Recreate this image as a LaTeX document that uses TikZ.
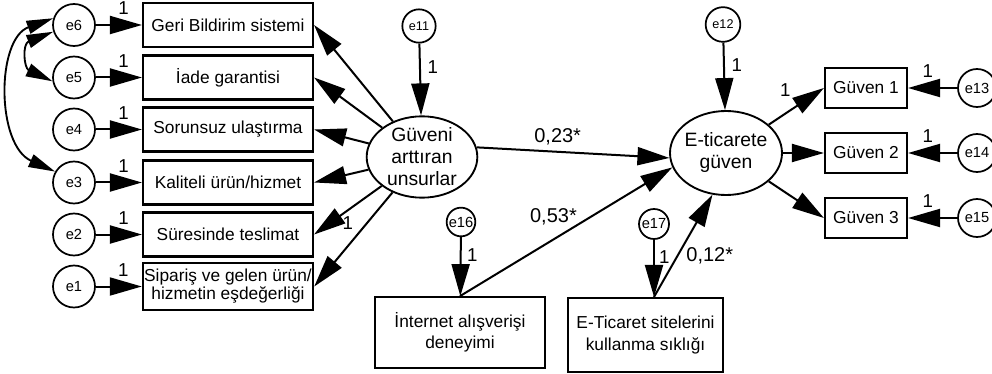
\documentclass[tikz,border=0pt]{standalone}
\usepackage{fontspec}
\setmainfont{Liberation Sans}
\usetikzlibrary{arrows.meta,positioning,shapes.geometric}

\begin{document}
\begin{tikzpicture}[
  x=0.75pt,y=-0.75pt,
  obs/.style={draw,line width=1.6pt,minimum width=127.5pt,minimum height=33pt,align=center,inner sep=1pt,font=\fontsize{13}{16}\selectfont},
  gobs/.style={obs,minimum width=61.5pt,minimum height=30pt},
  lat/.style={draw,ellipse,line width=1.4pt,minimum width=83pt,minimum height=61pt,align=center,inner sep=-4pt,font=\fontsize{14.5}{16.5}\selectfont},
  err/.style={draw,circle,line width=1.3pt,minimum size=31.5pt,inner sep=0pt,font=\fontsize{11}{12}\selectfont},
  rerr/.style={err,minimum size=28.5pt},
  serr/.style={err,minimum size=25pt,font=\fontsize{9.5}{10}\selectfont},
  berr/.style={err,minimum size=21.5pt},
  arr/.style={-{Triangle[length=24pt,width=13.5pt]},line width=1.5pt},
  cov/.style={>={Triangle[length=20pt,width=10pt]},<->,line width=1.4pt},
  lbl/.style={font=\fontsize{14}{14}\selectfont,inner sep=1pt},
  coef/.style={font=\fontsize{15}{15}\selectfont,inner sep=1pt}
]
  \useasboundingbox (0,0) rectangle (992,374);

  \node[obs] (b1) at (228,25) {Geri Bildirim sistemi};
  \node[obs] (b2) at (228,77.5) {İade garantisi};
  \node[obs] (b3) at (228,129.5) {Sorunsuz ulaştırma};
  \node[obs] (b4) at (228,182.5) {Kaliteli ürün/hizmet};
  \node[obs] (b5) at (228,234.5) {Süresinde teslimat};
  \node[obs,minimum height=35pt,font=\fontsize{13}{13.5}\selectfont] (b6) at (228,286.5) {Sipariş ve gelen ürün/\\hizmetin eşdeğerliği};

  \node[err] (e6) at (74,25) {e6};
  \node[err] (e5) at (74,77.5) {e5};
  \node[err] (e4) at (74,129.5) {e4};
  \node[err] (e3) at (74,182.5) {e3};
  \node[err] (e2) at (74,234.5) {e2};
  \node[err] (e1) at (74,286.5) {e1};

  \node[lat] (g) at (422,157) {Güveni\\arttıran\\unsurlar};
  \node[serr] (e11) at (419,26) {e11};

  \node[lat,minimum width=84pt,minimum height=63pt] (et) at (726,153) {E-ticarete\\güven};
  \node[serr,minimum size=26pt] (e12) at (723,24.5) {e12};

  \node[gobs] (v1) at (866,88) {Güven 1};
  \node[gobs] (v2) at (866,153) {Güven 2};
  \node[gobs] (v3) at (866,218) {Güven 3};
  \node[rerr] (e13) at (977,88) {e13};
  \node[rerr] (e14) at (977,153) {e14};
  \node[rerr] (e15) at (977,218) {e15};

  \node[obs,minimum height=53pt] (ib) at (460,332.5) {İnternet alışverişi\\deneyimi};
  \node[obs,minimum width=116pt,minimum height=55.5pt] (kb) at (645.5,335) {E-Ticaret sitelerini\\kullanma sıklığı};
  \node[berr] (e16) at (461,222) {e16};
  \node[berr,minimum size=22.5pt] (e17) at (654,224) {e17};
  \coordinate (ktop) at (e17 |- kb.north);

  \draw[arr] (e6) -- node[lbl,above=6pt,pos=0.6]{1} (b1);
  \draw[arr] (e5) -- node[lbl,above=6pt,pos=0.6]{1} (b2);
  \draw[arr] (e4) -- node[lbl,above=6pt,pos=0.6]{1} (b3);
  \draw[arr] (e3) -- node[lbl,above=6pt,pos=0.6]{1} (b4);
  \draw[arr] (e2) -- node[lbl,above=6pt,pos=0.6]{1} (b5);
  \draw[arr] (e1) -- node[lbl,above=6pt,pos=0.6]{1} (b6);

  \draw[cov] (e6.162) .. controls (-4,39) and (-4,145) .. (e3.150);
  \draw[cov] (e6.198) .. controls (22,44) and (24,68) .. (e5.190);

  \draw[arr] (g) -- (b1.east);
  \draw[arr] (g) -- (b2.east);
  \draw[arr] (g) -- (b3.east);
  \draw[arr] (g) -- (b4.east);
  \draw[arr] (g) -- node[lbl,below=3pt,pos=0.5]{1} (b5.east);
  \draw[arr] (g) -- (b6.east);
  \draw[arr] (e11) -- node[lbl,right=4pt,pos=0.33]{1} (g);

  \draw[arr] (g.10) -- node[coef,above=3pt,pos=0.42]{0,23*} (et.185);
  \draw[arr] (ib.north) -- node[coef,above=9pt,pos=0.44]{0,53*} (et.195);
  \draw[arr] (ktop) -- node[coef,right=5pt,pos=0.4]{0,12*} (et.252);
  \draw[arr] (e12) -- node[lbl,right=4pt,pos=0.33]{1} (et);

  \draw[arr] (et) -- node[lbl,above=11pt,pos=0.3]{1} (v1.west);
  \draw[arr] (et) -- (v2);
  \draw[arr] (et) -- (v3.west);
  \draw[arr] (e13) -- node[lbl,above=6pt,pos=0.6]{1} (v1);
  \draw[arr] (e14) -- node[lbl,above=6pt,pos=0.6]{1} (v2);
  \draw[arr] (e15) -- node[lbl,above=6pt,pos=0.6]{1} (v3);

  \draw[arr] (e16) -- node[lbl,right=3pt,pos=0.3]{1} (ib);
  \draw[arr] (e17) -- node[lbl,right=2pt,pos=0.3]{1} (ktop);
\end{tikzpicture}
\end{document}
